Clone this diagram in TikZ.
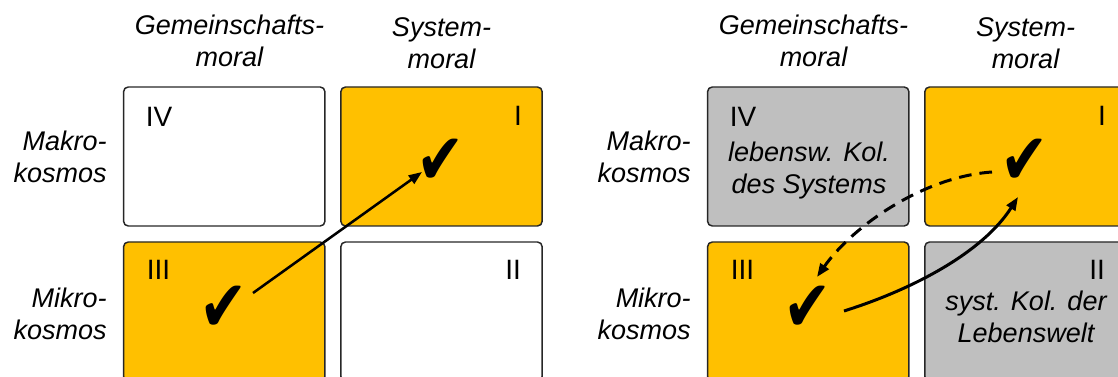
\documentclass[tikz,border=0pt]{standalone}
\usepackage{fontspec}
\setmainfont{Liberation Sans}
\newfontfamily\chkfont{DejaVu Sans}
\usetikzlibrary{arrows.meta}
\definecolor{gold}{HTML}{FFC000}
\definecolor{lgray}{HTML}{BFBFBF}
\tikzset{
         cell/.style={draw=black!85,line width=1.1pt,rounded corners=3.5pt,
          minimum width=151pt,minimum height=104.25pt,inner sep=0pt,outer sep=0pt},
         head/.style={font=\fontsize{20.25}{24}\selectfont\itshape,align=center,inner sep=0pt},
         rowlab/.style={font=\fontsize{20.25}{24}\selectfont\itshape,align=right,anchor=east,inner sep=0pt},
         celltext/.style={font=\fontsize{20.25}{24}\selectfont\itshape,align=center,inner sep=0pt},
         num/.style={font=\fontsize{21}{24}\selectfont,inner sep=0pt},
         chk/.style={font=\chkfont\fontsize{40}{40}\selectfont,inner sep=0pt,
          xscale=1.08,yscale=1.35,transform shape},
         arr/.style={-{Triangle[length=10pt,width=7.5pt]}}
        }

\begin{document}
\begin{tikzpicture}[x=.75pt,y=-.75pt]
      \useasboundingbox (0,0) rectangle (1118,377);
      \clip (0,0) rectangle (1118,377);
      %left matrix
      \node[cell] (lIV) at (224.25,156.5){}; %white box IV
      \node[cell,fill=gold] (lI) at (441.5,156.5){}; %gold box I
      \node[cell,fill=gold] (lIII) at (224.25,311.5){}; %gold box III
      \node[cell] (lII) at (441.5,311.5){}; %white box II
      \node[num,anchor=base west] (lnIV) at ([shift={(22,40)}]lIV.north west){IV};
      \node[num,anchor=base east] (lnI) at ([shift={(-20,39)}]lI.north east){I};
      \node[num,anchor=base west] (lnIII) at ([shift={(23,38)}]lIII.north west){III};
      \node[num,anchor=base east] (lnII) at ([shift={(-21,38)}]lII.north east){II};
      \node[head] (lgem) at (229.5,41){Gemeinschafts-\\moral};
      \node[head] (lsys) at (441.5,43){System-\\moral};
      \node[rowlab] (lmak) at (107,157){Makro-\\kosmos};
      \node[rowlab] (lmik) at (107,314){Mikro-\\kosmos};
      \node[chk] (lcI) at (441,162){✔};
      \node[chk] (lcIII) at (224,309){✔};
      \draw[arr,line width=1.9pt]([shift={(29,-16)}]lcIII.center)--([shift={(-19,10)}]lcI.center);
      %right matrix
      \node[cell,fill=lgray] (rIV) at (808.25,156.5){}; %grey box IV
      \node[cell,fill=gold] (rI) at (1025.5,156.5){}; %gold box I
      \node[cell,fill=gold] (rIII) at (808.25,311.5){}; %gold box III
      \node[cell,fill=lgray] (rII) at (1025.5,311.5){}; %grey box II
      \node[num,anchor=base west] (rnIV) at ([shift={(22,40)}]rIV.north west){IV};
      \node[num,anchor=base east] (rnI) at ([shift={(-20,39)}]rI.north east){I};
      \node[num,anchor=base west] (rnIII) at ([shift={(23,38)}]rIII.north west){III};
      \node[num,anchor=base east] (rnII) at ([shift={(-21,38)}]rII.north east){II};
      \node[celltext] (rtIV) at (809,171){lebensw. Kol.\\des Systems};
      \node[celltext] (rtII) at (1026,316.5){syst. Kol. der\\Lebenswelt};
      \node[head] (rgem) at (813.5,41){Gemeinschafts-\\moral};
      \node[head] (rsys) at (1025.5,43){System-\\moral};
      \node[rowlab] (rmak) at (691,157){Makro-\\kosmos};
      \node[rowlab] (rmik) at (691,314){Mikro-\\kosmos};
      \node[chk] (rcI) at (1025,162){✔};
      \node[chk] (rcIII) at (808,309){✔};
      \draw[arr,line width=2.25pt]([shift={(36,2)}]rcIII.center)
      .. controls +(70,-22) and +(-35,55) .. ([shift={(-7,35)}]rcI.center); %solid curve
      \draw[arr,line width=2.25pt,dash pattern=on 9.5pt off 6pt]([shift={(-33,10)}]rcI.center)
      .. controls +(-70,5) and +(35,-50) .. ([shift={(9,-32)}]rcIII.center); %dashed curve
    \end{tikzpicture}
\end{document}
